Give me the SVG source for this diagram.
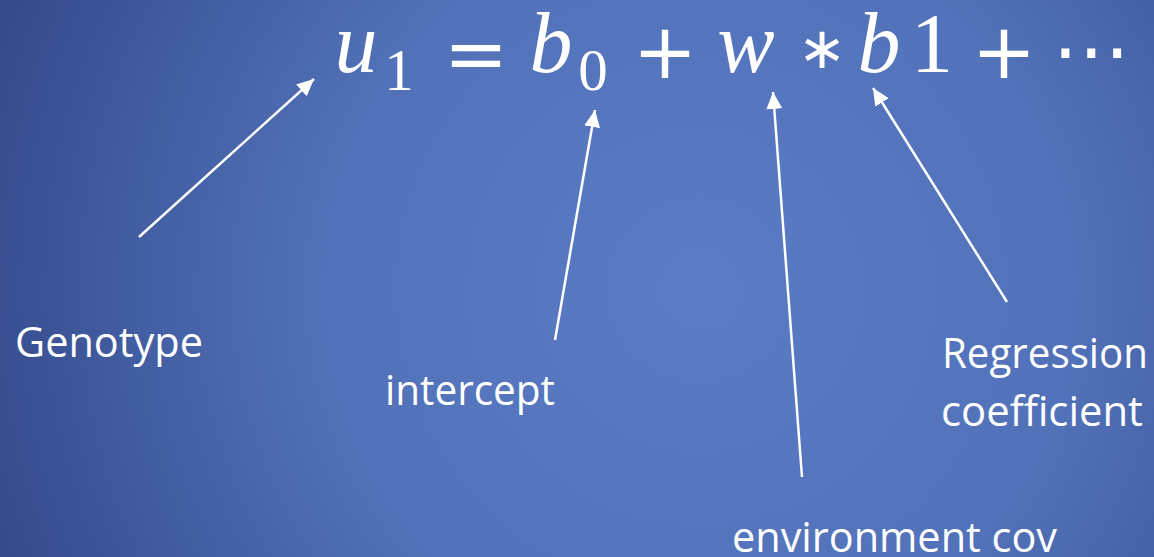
<svg xmlns="http://www.w3.org/2000/svg" width="1154" height="557" viewBox="0 0 1154 557">
<defs>
<radialGradient id="bg" gradientUnits="userSpaceOnUse" cx="700" cy="290" r="760">
<stop offset="0" stop-color="#5b7cc6"/>
<stop offset="0.5" stop-color="#5171b8"/>
<stop offset="1" stop-color="#34498a"/>
</radialGradient>
<marker id="ah" markerUnits="userSpaceOnUse" markerWidth="20" markerHeight="18" refX="17" refY="8" orient="auto" viewBox="0 0 20 16">
<path d="M0,0 L17,8 L0,16 Z" fill="#ffffff"/>
</marker>
</defs>
<style>
.lbl{font-family:"Open Sans","Liberation Sans",sans-serif;font-size:42px;fill:#ffffff}
.mi{font-family:"Liberation Serif",serif;font-style:italic;font-size:86px;fill:#ffffff;text-anchor:middle}
.mn{font-family:"Liberation Serif",serif;font-size:84px;fill:#ffffff;text-anchor:middle}
.ms{font-family:"Liberation Serif",serif;font-size:59px;fill:#ffffff;text-anchor:middle}
.op{font-family:"DejaVu Sans",sans-serif;font-size:77px;fill:#ffffff;text-anchor:middle}
.ast{font-size:58px}
.conn line{stroke:#ffffff;stroke-width:2.5;fill:none;marker-end:url(#ah)}
</style>
<rect x="0" y="0" width="1154" height="557" fill="url(#bg)"/>
<g id="equation">
<text class="mi" x="356" y="72">u</text>
<text class="ms" x="399" y="90">1</text>
<text class="op" x="476" y="80">=</text>
<text class="mi" x="551" y="72">b</text>
<text class="ms" x="593" y="90">0</text>
<text class="op" x="665" y="78">+</text>
<text class="mi" x="746" y="72">w</text>
<text class="op ast" x="822" y="68">∗</text>
<text class="mi" x="879" y="72">b</text>
<text class="mn" x="932" y="72">1</text>
<text class="op" x="1004" y="78">+</text>
<text class="op" x="1091" y="77">⋯</text>
</g>
<g id="genotype"><text class="lbl" x="15" y="357" textLength="188" lengthAdjust="spacingAndGlyphs">Genotype</text></g>
<g id="intercept"><text class="lbl" x="385" y="405" textLength="170" lengthAdjust="spacingAndGlyphs">intercept</text></g>
<g id="regression"><text class="lbl" x="942" y="368" textLength="206" lengthAdjust="spacingAndGlyphs">Regression</text><text class="lbl" x="941" y="426" textLength="202" lengthAdjust="spacingAndGlyphs">coefficient</text></g>
<g id="environment"><text class="lbl" x="732" y="552" textLength="325" lengthAdjust="spacingAndGlyphs">environment cov</text></g>
<g class="conn" id="connectors">
<line x1="139" y1="237" x2="314" y2="79"/>
<line x1="555" y1="340" x2="595" y2="110"/>
<line x1="802" y1="477" x2="773" y2="92"/>
<line x1="1007" y1="302" x2="873" y2="88"/>
</g>
</svg>
